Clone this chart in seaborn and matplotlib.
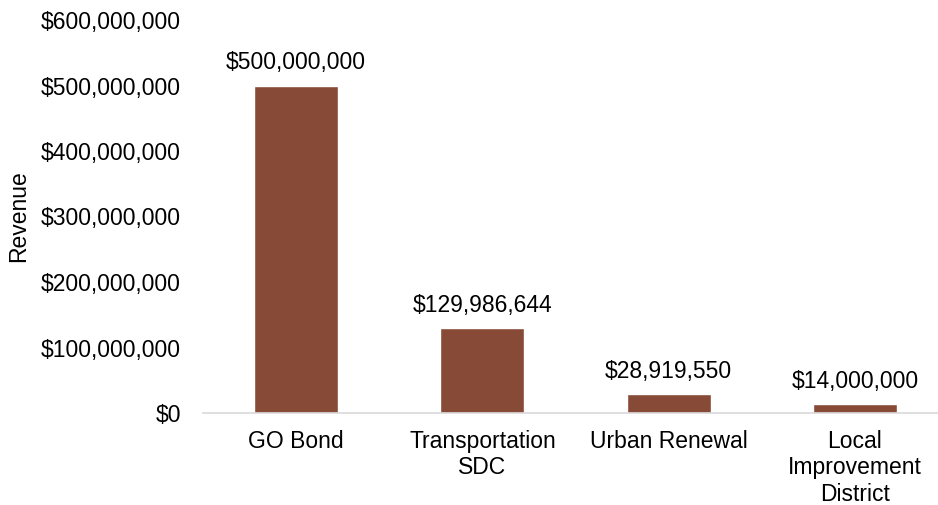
import matplotlib
matplotlib.use("Agg")
import matplotlib.pyplot as plt
import seaborn as sns
import pandas as pd
from matplotlib.ticker import FuncFormatter, MultipleLocator

categories = ["GO Bond", "Transportation\nSDC", "Urban Renewal", "Local\nImprovement\nDistrict"]
revenue = [500000000, 129986644, 28919550, 14000000]
y_max = 600000000
y_step = 100000000

sns.set_theme(style="white")
plt.rcParams['font.family'] = ['Liberation Sans', 'DejaVu Sans']
FS = 16.5

df = pd.DataFrame({"category": categories, "revenue": revenue})

fig = plt.figure(figsize=(9.38, 5.05), dpi=100)
ax = fig.add_axes([203/938, 92/505, 745/938, 393/505])

sns.barplot(data=df, x="category", y="revenue", color="#874A37", saturation=1,
            width=0.45, ax=ax)

ax.set_ylim(0, y_max)
ax.set_xlim(-0.5, len(categories) - 0.5)
ax.yaxis.set_major_locator(MultipleLocator(y_step))
ax.yaxis.set_major_formatter(FuncFormatter(lambda v, p: f"${v:,.0f}"))

for c in ax.containers:
    ax.bar_label(c, labels=[f"${v:,.0f}" for v in revenue], padding=8,
                 fontsize=FS, color="black")

for s in ["top", "right", "left"]:
    ax.spines[s].set_visible(False)
ax.spines["bottom"].set_color("#d9d9d9")
ax.spines["bottom"].set_linewidth(1.2)

ax.tick_params(axis="y", length=0, pad=16, labelsize=FS, labelcolor="black")
ax.tick_params(axis="x", length=0, pad=12, labelsize=FS, labelcolor="black")
ax.set_xlabel("")
ax.set_ylabel("Revenue", fontsize=FS, color="black", labelpad=8)

fig.savefig("out.png", dpi=100)
